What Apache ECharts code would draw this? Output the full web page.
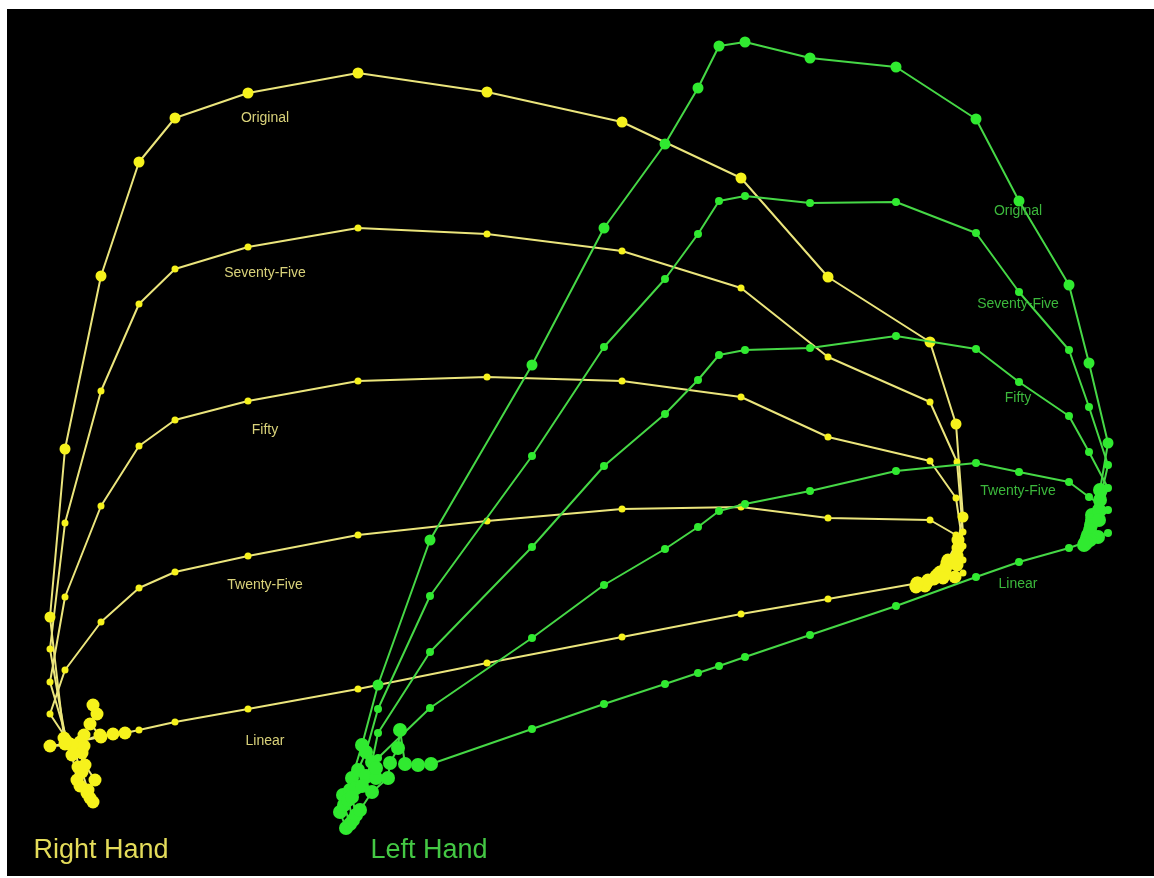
<!DOCTYPE html>
<html>
<head>
<meta charset="utf-8">
<script src="https://cdn.jsdelivr.net/npm/echarts/dist/echarts.min.js"></script>
<style>
html,body{margin:0;padding:0;background:#fff;}
#chart{width:1154px;height:878px;}
</style>
</head>
<body>
<div id="chart"></div>
<script>
// ---- Right Hand (yellow) trajectories: [x, y] in picture units ----
const rightOriginal = [[93,802],[87,793],[77,780],[72,755],[64,738],
  [50,617],[65,449],[101,276],[139,162],[175,118],[248,93],[358,73],[487,92],[622,122],[741,178],[828,277],[930,342],[956,424],[963,517],
  [958,540],[948,560],[940,572],[928,580],[918,583]];
const rightSeventyFive = [[90,798],[80,786],[78,767],[76,748],[66,741],
  [50,649],[65,523],[101,391],[139,304],[175,269],[248,247],[358,228],[487,234],[622,251],[741,288],[828,357],[930,402],[957,462],[963,532],
  [958,548],[947,563],[938,574],[927,582],[917,585]];
const rightFifty = [[88,790],[82,772],[82,753],[80,742],[68,743],
  [50,682],[65,597],[101,506],[139,446],[175,420],[248,401],[358,381],[487,377],[622,381],[741,397],[828,437],[930,461],[956,498],[963,546],
  [957,556],[946,567],[936,576],[926,584],[916,586]];
const rightTwentyFive = [[95,780],[85,765],[84,746],[84,735],[70,744],
  [50,714],[65,670],[101,622],[139,588],[175,572],[248,556],[358,535],[487,521],[622,509],[741,507],[828,518],[930,520],[956,535],[963,560],
  [957,565],[945,572],[934,579],[925,586],[916,587]];
const rightLinear = [[93,705],[97,714],[90,724],[100,735],[72,745],
  [50,746],[65,744],[101,737],[113,734],[125,733],[139,730],[175,722],[248,709],[358,689],[487,663],[622,637],[741,614],[828,599],[930,581],[956,575],[963,573],
  [955,577],[943,578],[928,581],[917,583]];

// ---- Left Hand (green) trajectories ----
const leftOriginal = [[346,828],[340,812],[343,795],[352,778],[362,745],
  [378,685],[430,540],[532,365],[604,228],[665,144],[698,88],[719,46],[745,42],[810,58],[896,67],[976,119],[1019,201],[1069,285],[1089,363],[1108,443],
  [1100,490],[1092,515],[1088,535],[1086,542]];
const leftSeventyFive = [[350,824],[344,805],[350,790],[358,770],[366,752],
  [378,709],[430,596],[532,456],[604,347],[665,279],[698,234],[719,201],[745,196],[810,203],[896,202],[976,233],[1019,292],[1069,350],[1089,407],[1108,465],
  [1100,500],[1092,520],[1088,537],[1086,543]];
const leftFifty = [[353,820],[348,800],[356,788],[366,776],[372,762],
  [378,733],[430,652],[532,547],[604,466],[665,414],[698,380],[719,355],[745,350],[810,348],[896,336],[976,349],[1019,382],[1069,416],[1089,452],[1108,488],
  [1099,510],[1091,525],[1087,538],[1085,543]];
const leftTwentyFive = [[356,815],[352,797],[362,786],[376,778],[376,768],
  [378,758],[430,708],[532,638],[604,585],[665,549],[698,527],[719,511],[745,504],[810,491],[896,471],[976,463],[1019,472],[1069,482],[1089,497],[1108,510],
  [1099,520],[1090,530],[1087,540],[1085,544]];
const leftLinear = [[360,810],[372,792],[388,778],[390,763],[398,748],[400,730],[405,764],[418,765],[431,764],
  [532,729],[604,704],[665,684],[698,673],[719,666],[745,657],[810,635],[896,606],[976,577],[1019,562],[1069,548],[1089,541],[1108,533],
  [1098,537],[1090,540],[1086,542],[1084,545]];

const curveNames = ['Original','Seventy-Five','Fifty','Twenty-Five','Linear'];
const handNames = ['Right Hand','Left Hand'];

const YDOT = '#f6f21c', YLINE = '#ebe57c', YTXT = '#d9d27a';
const GDOT = '#30ea30', GLINE = '#46d846', GTXT = '#3cb83c';

function mk(name, data, dot, line, base, big, startN, endN, z) {
  return {
    type: 'line', name: name, data: data, z: z, silent: true,
    symbol: 'circle',
    symbolSize: function (v, p) {
      const i = p.dataIndex;
      return (i < startN || i >= data.length - endN) ? big : base;
    },
    itemStyle: { color: dot },
    lineStyle: { color: line, width: 2 },
    emphasis: { disabled: true },
    animation: false
  };
}

const series = [
  mk('R-' + curveNames[0], rightOriginal, YDOT, YLINE, 11, 13, 5, 5, 2),
  mk('R-' + curveNames[1], rightSeventyFive, YDOT, YLINE, 7, 13, 5, 5, 2),
  mk('R-' + curveNames[2], rightFifty, YDOT, YLINE, 7, 13, 5, 5, 2),
  mk('R-' + curveNames[3], rightTwentyFive, YDOT, YLINE, 7, 13, 5, 5, 2),
  mk('R-' + curveNames[4], rightLinear, YDOT, YLINE, 7, 13, 10, 4, 2),
  mk('L-' + curveNames[0], leftOriginal, GDOT, GLINE, 11, 14, 5, 4, 3),
  mk('L-' + curveNames[1], leftSeventyFive, GDOT, GLINE, 8, 14, 5, 4, 3),
  mk('L-' + curveNames[2], leftFifty, GDOT, GLINE, 8, 14, 5, 4, 3),
  mk('L-' + curveNames[3], leftTwentyFive, GDOT, GLINE, 8, 14, 5, 4, 3),
  mk('L-' + curveNames[4], leftLinear, GDOT, GLINE, 8, 14, 9, 4, 3)
];

function txt(t, x, y, color, size) {
  return {
    type: 'text', z: 100, silent: true,
    style: { text: t, x: x, y: y, fill: color, font: size + 'px "Liberation Sans", Arial, sans-serif',
      textAlign: 'center', textVerticalAlign: 'middle', align: 'center', verticalAlign: 'middle' }
  };
}

const rLabelY = [118, 273, 430, 585, 741];
const lLabelY = [211, 304, 398, 491, 584];
const graphics = [{ type: 'rect', z: -10, silent: true, shape: { x: 7, y: 9, width: 1147, height: 867 }, style: { fill: '#000' } }];
curveNames.forEach(function (n, i) {
  graphics.push(txt(n, 265, rLabelY[i], YTXT, 14));
  graphics.push(txt(n, 1018, lLabelY[i], GTXT, 14));
});
graphics.push(txt(handNames[0], 101, 851, '#e4dc5a', 27));
graphics.push(txt(handNames[1], 429, 851, '#44c844', 27));

const chart = echarts.init(document.getElementById('chart'), null, { renderer: 'canvas' });
chart.setOption({
  backgroundColor: '#ffffff',
  animation: false,
  grid: { left: 0, right: 0, top: 0, bottom: 0 },
  xAxis: { type: 'value', min: 0, max: 1154, show: false },
  yAxis: { type: 'value', min: 0, max: 878, inverse: true, show: false },
  graphic: graphics,
  series: series
});
</script>
</body>
</html>
